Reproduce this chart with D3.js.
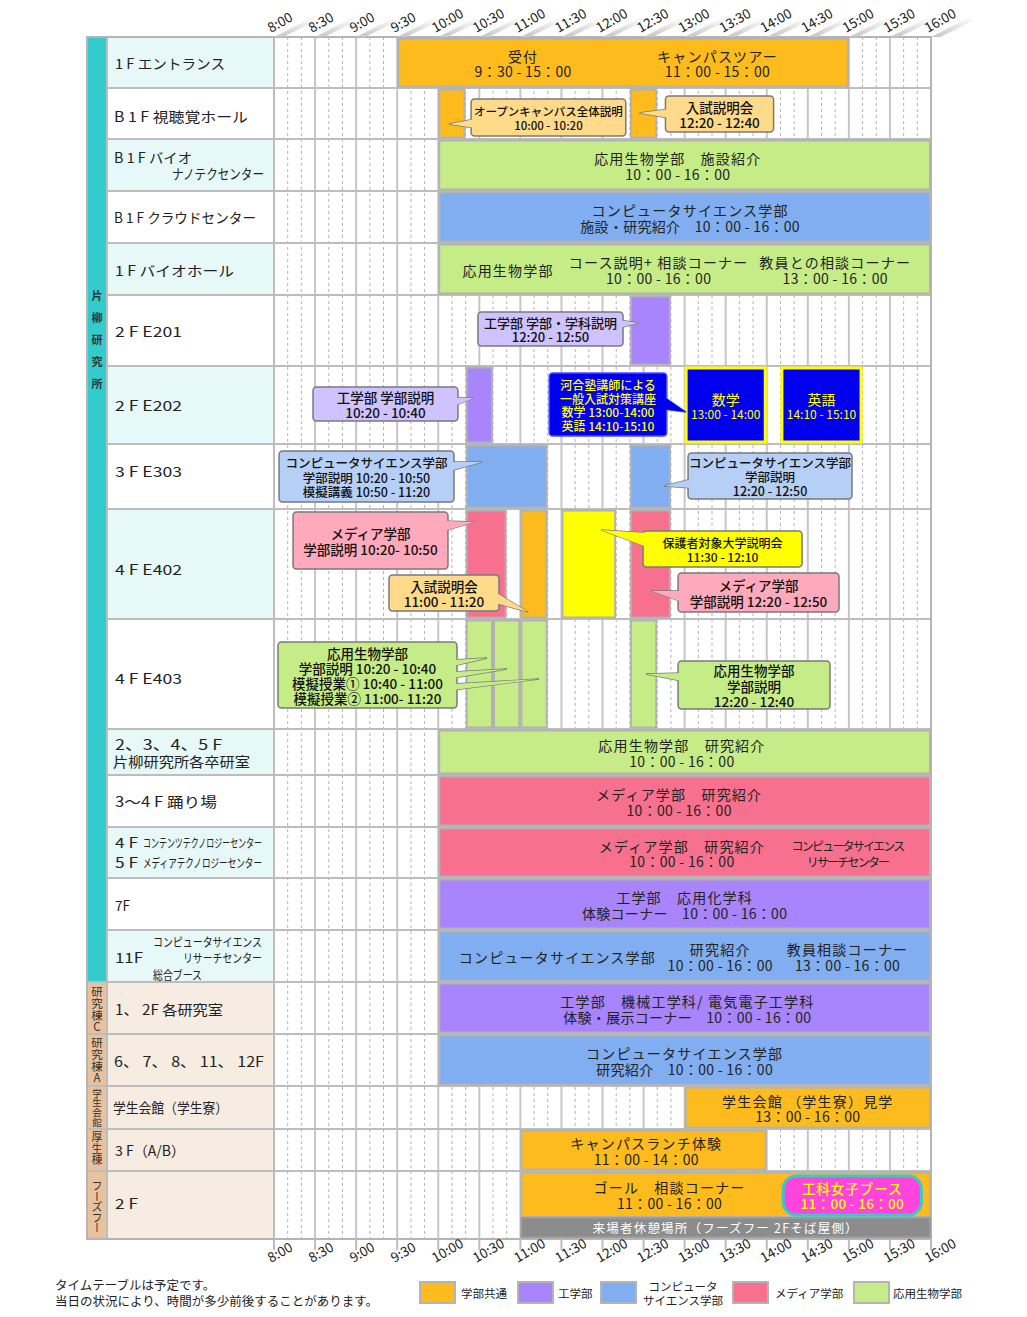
<!DOCTYPE html>
<html><head><meta charset="utf-8">
<script src="https://cdn.jsdelivr.net/npm/d3@7"></script>
<style>
body{margin:0;background:#fff}
svg{display:block}
text{font-family:"Noto Sans CJK JP","Noto Sans",sans-serif;fill:#222}
</style>
</head><body>
<svg id="c" width="1027" height="1317"></svg>
<script>
// ---------------- DATA ----------------
const ticks = ["8:00","8:30","9:00","9:30","10:00","10:30","11:00","11:30","12:00","12:30","13:00","13:30","14:00","14:30","15:00","15:30","16:00"];

const rowLabels = [
  ["1 F エントランス"],
  ["B 1 F 視聴覚ホール"],
  ["B 1 F バイオ","ナノテクセンター"],
  ["B 1 F クラウドセンター"],
  ["1 F バイオホール"],
  ["2 F E201"],
  ["2 F E202"],
  ["3 F E303"],
  ["4 F E402"],
  ["4 F E403"],
  ["2、3、4、5 F","片柳研究所各卒研室"],
  ["3〜4 F 踊り場"],
  ["4 F","コンテンツテクノロジーセンター","5 F","メディアテクノロジーセンター"],
  ["7F"],
  ["11F","コンピュータサイエンス","リサーチセンター","総合ブース"],
  ["1、 2F 各研究室"],
  ["6、 7、 8、 11、 12F"],
  ["学生会館（学生寮）"],
  ["3 F（A/B）"],
  ["2 F"]
];

const groups = [
  {name:"片柳研究所", first:0, last:14},
  {name:"研究棟C", first:15, last:15},
  {name:"研究棟A", first:16, last:16},
  {name:"学生会館", first:17, last:17},
  {name:"厚生棟", first:18, last:18},
  {name:"フーズフー", first:19, last:19}
];

const categories = ["common","eng","cs","media","bio"];
const legendLabels = [["学部共通"],["工学部"],["コンピュータ","サイエンス学部"],["メディア学部"],["応用生物学部"]];

const events = [
  {row:0, start:"9:30", end:"15:00", cat:"common", texts:[{at:"11:02", lines:["受付","9：30 - 15：00"]},{at:"13:24", lines:["キャンパスツアー","11：00 - 15：00"]}]},
  {row:1, start:"10:00", end:"10:20", cat:"common"},
  {row:1, start:"12:20", end:"12:40", cat:"common"},
  {row:2, start:"10:00", end:"16:00", cat:"bio", texts:[{at:"12:55", lines:["応用生物学部　施設紹介","10：00 - 16：00"]}]},
  {row:3, start:"10:00", end:"16:00", cat:"cs", texts:[{at:"13:04", lines:["コンピュータサイエンス学部","施設・研究紹介　10：00 - 16：00"]}]},
  {row:4, start:"10:00", end:"16:00", cat:"bio", texts:[{at:"10:51", lines:["応用生物学部"]},{at:"12:41", lines:["コース説明+ 相談コーナー","10：00 - 16：00"]},{at:"14:50", lines:["教員との相談コーナー","13：00 - 16：00"]}]},
  {row:5, start:"12:20", end:"12:50", cat:"eng"},
  {row:6, start:"10:20", end:"10:40", cat:"eng"},
  {row:6, start:"13:00", end:"14:00", cat:"kawai", texts:[{lines:["数学","13:00 - 14:00"]}]},
  {row:6, start:"14:10", end:"15:10", cat:"kawai", texts:[{lines:["英語","14:10 - 15:10"]}]},
  {row:7, start:"10:20", end:"11:20", cat:"cs"},
  {row:7, start:"12:20", end:"12:50", cat:"cs"},
  {row:8, start:"10:20", end:"10:50", cat:"media"},
  {row:8, start:"11:00", end:"11:20", cat:"common"},
  {row:8, start:"11:30", end:"12:10", cat:"parent"},
  {row:8, start:"12:20", end:"12:50", cat:"media"},
  {row:9, start:"10:20", end:"10:40", cat:"bio"},
  {row:9, start:"10:40", end:"11:00", cat:"bio"},
  {row:9, start:"11:00", end:"11:20", cat:"bio"},
  {row:9, start:"12:20", end:"12:40", cat:"bio"},
  {row:10, start:"10:00", end:"16:00", cat:"bio", texts:[{at:"12:58", lines:["応用生物学部　研究紹介","10：00 - 16：00"]}]},
  {row:11, start:"10:00", end:"16:00", cat:"media", texts:[{at:"12:56", lines:["メディア学部　研究紹介","10：00 - 16：00"]}]},
  {row:12, start:"10:00", end:"16:00", cat:"media", texts:[{at:"12:58", lines:["メディア学部　研究紹介","10：00 - 16：00"]},{at:"14:59", kind:"note", lines:["コンピュータサイエンス","リサーチセンター"]}]},
  {row:13, start:"10:00", end:"16:00", cat:"eng", texts:[{at:"13:00", lines:["工学部　応用化学科","体験コーナー　10：00 - 16：00"]}]},
  {row:14, start:"10:00", end:"16:00", cat:"cs", texts:[{at:"11:27", lines:["コンピュータサイエンス学部"]},{at:"13:26", lines:["研究紹介","10：00 - 16：00"]},{at:"14:59", lines:["教員相談コーナー","13：00 - 16：00"]}]},
  {row:15, start:"10:00", end:"16:00", cat:"eng", texts:[{at:"13:02", lines:["工学部　機械工学科/ 電気電子工学科","体験・展示コーナー　10：00 - 16：00"]}]},
  {row:16, start:"10:00", end:"16:00", cat:"cs", texts:[{at:"13:00", lines:["コンピュータサイエンス学部","研究紹介　10：00 - 16：00"]}]},
  {row:17, start:"13:00", end:"16:00", cat:"common", texts:[{lines:["学生会館 （学生寮）見学","13：00 - 16：00"]}]},
  {row:18, start:"11:00", end:"14:00", cat:"common", texts:[{at:"12:32", lines:["キャンパスランチ体験","11：00 - 14：00"]}]},
  {row:19, start:"11:00", end:"16:00", cat:"common", lane:"upper", texts:[{at:"12:49", lines:["ゴール　相談コーナー","11：00 - 16：00"]}]},
  {row:19, start:"11:00", end:"16:00", cat:"rest", lane:"lower", texts:[{kind:"rest", lines:["来場者休憩場所（フーズフー 2Fそば屋側）"]}]}
];

const callouts = [
  {row:1, cat:"common", lines:["オープンキャンパス全体説明","10:00 - 10:20"]},
  {row:1, cat:"common", lines:["入試説明会","12:20 - 12:40"]},
  {row:5, cat:"eng", lines:["工学部 学部・学科説明","12:20 - 12:50"]},
  {row:6, cat:"eng", lines:["工学部 学部説明","10:20 - 10:40"]},
  {row:6, cat:"kawai", lines:["河合塾講師による","一般入試対策講座","数学 13:00-14:00","英語 14:10-15:10"]},
  {row:7, cat:"cs", lines:["コンピュータサイエンス学部","学部説明 10:20 - 10:50","模擬講義 10:50 - 11:20"]},
  {row:7, cat:"cs", lines:["コンピュータサイエンス学部","学部説明","12:20 - 12:50"]},
  {row:8, cat:"media", lines:["メディア学部","学部説明 10:20- 10:50"]},
  {row:8, cat:"common", lines:["入試説明会","11:00 - 11:20"]},
  {row:8, cat:"parent", lines:["保護者対象大学説明会","11:30 - 12:10"]},
  {row:8, cat:"media", lines:["メディア学部","学部説明 12:20 - 12:50"]},
  {row:9, cat:"bio", lines:["応用生物学部","学部説明 10:20 - 10:40","模擬授業① 10:40 - 11:00","模擬授業② 11:00- 11:20"]},
  {row:9, cat:"bio", lines:["応用生物学部","学部説明","12:20 - 12:40"]}
];

const badges = [{row:19, lines:["工科女子ブース","11：00 - 16：00"]}];

const notes = ["タイムテーブルは予定です。","当日の状況により、時間が多少前後することがあります。"];

// ---------------- LAYOUT / STYLE ----------------
const colors = {common:"#FDBB1D", eng:"#A884FD", cs:"#80AEF0", media:"#F7718F", bio:"#C6EC87", kawai:"#0000EE", parent:"#FFFF00", rest:"#8C8C8C"};
const calloutFill = {common:"#FFDA8A", eng:"#CEC2FF", cs:"#B6CFF6", media:"#FFA9BC", bio:"#C6EC87", parent:"#FFFF00", kawai:"#0000EE"};
const rowHeights = [51,51,52,52,52,71,78,65,110,110,46,52,51,52,52,52,52,43,42,68];
const gridTop = 37;
const rowTop = [];
rowHeights.reduce((acc,h,i)=>{rowTop[i]=acc; return acc+h;}, gridTop);
const gridBottom = gridTop + d3.sum(rowHeights);
const sideX0 = 87, sideX1 = 107, labX1 = 274, gridX1 = 931;

const labelLayout = [
  [{x:115,dy:26,len:110}],
  [{x:114,dy:28,len:134}],
  [{x:114,dy:18,len:78},{x:264,dy:34,len:92,anchor:"end"}],
  [{x:114,dy:26,len:142}],
  [{x:115,dy:27,len:119}],
  [{x:115,dy:36,len:67}],
  [{x:115,dy:39,len:67}],
  [{x:115,dy:27,len:67}],
  [{x:115,dy:60,len:67}],
  [{x:115,dy:59,len:67}],
  [{x:115,dy:15,len:107},{x:113,dy:32,len:137}],
  [{x:115,dy:26,len:102}],
  [{x:115,dy:15,len:23},{x:143,dy:15,len:119,size:12.5},{x:115,dy:35,len:23},{x:143,dy:35,len:119,size:12.5}],
  [{x:115,dy:27,len:15}],
  [{x:115,dy:27,len:28},{x:153,dy:11,len:109,size:12},{x:262,dy:27,len:79,size:12,anchor:"end"},{x:153,dy:44,len:49,size:12}],
  [{x:115,dy:27,len:108}],
  [{x:114,dy:27,len:150}],
  [{x:113,dy:21,len:115}],
  [{x:115,dy:21,len:70}],
  [{x:115,dy:32,len:23}]
];

const groupStyle = [
  {fill:"#33CCCC", size:11, step:22, cy:340, weight:"bold"},
  {fill:"#E8C29C", size:11.5, step:11.7, cy:1009.5},
  {fill:"#E8C29C", size:11.5, step:11.7, cy:1060.5},
  {fill:"#E8C29C", size:9.5, step:9.7, cy:1107.5},
  {fill:"#E8C29C", size:11, step:11.5, cy:1148.5},
  {fill:"#E8C29C", size:11, step:10.5, cy:1207}
];

const calloutLayout = [
  {box:[624,737,11,48], size:11.5, tips:[{side:"l", t:608, y:36, base:[31,40]}]},
  {box:[766,845,8,44], size:13.5, tips:[{side:"l", t:747, y:25, base:[21,30]}]},
  {box:[629,735,17,51], size:13, tips:[{side:"r", t:746, y:28, base:[25,33]}]},
  {box:[508.5,614.4,21,55], size:13.5, tips:[{side:"r", t:626, y:32, base:[32,40]}]},
  {box:[681,767,7,70], size:12, tips:[{side:"r", t:781, y:46, base:[30,43]}]},
  {box:[483.7,611.5,7,58], size:12.5, tips:[{side:"r", t:632, y:18, base:[18,27]}]},
  {box:[782.5,902.3,9,55], size:12.5, tips:[{side:"l", t:765, y:42, base:[35,44]}]},
  {box:[493.9,607.1,3,60], size:13.5, tips:[{side:"r", t:626.8, y:13, base:[12,22]}]},
  {box:[564,644.4,66,102], size:13.5, tips:[{side:"r", t:665.6, y:103, base:[83,94]}]},
  {box:[749.6,865.8,22,58], size:12, tips:[{side:"l", t:718.9, y:21, base:[24,38]}]},
  {box:[775.2,892.8,64,103], size:13.5, tips:[{side:"l", t:756.2, y:82, base:[82,93]}]},
  {box:[482.9,613.7,23,89], size:13.5, tips:[{side:"r",t:635.6,y:39,base:[41,47]},{side:"r",t:650.2,y:50,base:[53,59]},{side:"r",t:673.6,y:60,base:[65,71]}]},
  {box:[775.2,886.2,42,90], size:13.5, tips:[{side:"l", t:751.8, y:55, base:[54,62]}]}
];
const badgeLayout = [{box:[852,953,5,44]}];

// ---------------- DRAW ----------------
const T = s => { const [h,m] = s.split(":").map(Number); return h*60+m; };
const x = d3.scaleLinear().domain([T(ticks[0]), T(ticks[ticks.length-1])]).range([labX1, gridX1]);
const svg = d3.select("#c");

// multi-line text as one <text> with tspans
function multiText(parent, lines, cx, cy, lh, opts) {
  const n = lines.length;
  const t = parent.append("text").attr("text-anchor", opts.anchor || "middle")
    .attr("font-size", opts.size).attr("font-weight", opts.weight || "normal")
    .style("fill", opts.fill || "#222");
  lines.forEach((s,k)=>{
    const sp = t.append("tspan").attr("x", cx).attr("y", cy + (k-(n-1)/2)*lh)
      .attr("dominant-baseline","central").text(s);
    const ls = opts.ls ? opts.ls(s,k) : 0;
    if (ls) sp.attr("letter-spacing", ls);
    if (opts.sizes) sp.attr("font-size", opts.sizes[k]);
  });
  return t;
}

const defs = svg.append("defs");
const wg = defs.append("linearGradient").attr("id","wedge").attr("x1","0").attr("y1","1").attr("x2","0.3").attr("y2","0");
wg.append("stop").attr("offset","0").attr("stop-color","#c4c4c4");
wg.append("stop").attr("offset","1").attr("stop-color","#f6f6f6");

// label column backgrounds
rowLabels.forEach((_,i)=>{
  const bg = i >= 15 ? "#F6ECE2" : (i%2===0 ? "#E6F8F8" : "#FFFFFF");
  svg.append("rect").attr("x",sideX1).attr("y",rowTop[i]).attr("width",labX1-sideX1).attr("height",rowHeights[i]).attr("fill",bg);
});
// grid background
svg.append("rect").attr("x",labX1).attr("y",gridTop).attr("width",gridX1-labX1).attr("height",gridBottom-gridTop).attr("fill","#fff");

// 10-minute dashed lines
const minorTimes = d3.range(T(ticks[0]), T(ticks[ticks.length-1]), 10).filter(t => t % 30 !== 0);
svg.append("g").selectAll("line").data(minorTimes).join("line")
  .attr("x1",d=>x(d)).attr("x2",d=>x(d)).attr("y1",gridTop).attr("y2",gridBottom)
  .attr("stroke","#b4b4b4").attr("stroke-width",1).attr("stroke-dasharray","3,3");
// half-hour lines
svg.append("g").selectAll("line").data(ticks).join("line")
  .attr("x1",d=>x(T(d))).attr("x2",d=>x(T(d))).attr("y1",gridTop).attr("y2",gridBottom)
  .attr("stroke","#c6c6c6").attr("stroke-width",2);

// side columns (vertical group names, vertical writing mode)
groups.forEach((g,gi)=>{
  const st = groupStyle[gi];
  const y0 = rowTop[g.first], y1 = rowTop[g.last]+rowHeights[g.last];
  svg.append("rect").attr("x",sideX0).attr("y",y0).attr("width",sideX1-sideX0).attr("height",y1-y0).attr("fill",st.fill);
  const ls = st.step - st.size;
  svg.append("text").attr("x",97).attr("y",st.cy + ls/2)
    .attr("text-anchor","middle")
    .style("writing-mode","vertical-rl").style("text-orientation","upright")
    .attr("font-size",st.size).attr("font-weight",st.weight||"normal")
    .attr("letter-spacing",ls).style("fill","#333").text(g.name);
});

// horizontal row lines
rowTop.forEach((y,i)=>{
  if (i===0) return;
  const isGroupStart = groups.some(g=>g.first===i);
  svg.append("line").attr("x1",isGroupStart?sideX0:sideX1).attr("x2",gridX1).attr("y1",y).attr("y2",y)
    .attr("stroke","#bdbdbd").attr("stroke-width",2);
});
// vertical separators and outer border
[sideX1, labX1].forEach(xx=>svg.append("line").attr("x1",xx).attr("x2",xx).attr("y1",gridTop).attr("y2",gridBottom).attr("stroke","#bdbdbd").attr("stroke-width",2));
svg.append("rect").attr("x",sideX0).attr("y",gridTop).attr("width",gridX1-sideX0).attr("height",gridBottom-gridTop)
  .attr("fill","none").attr("stroke","#b4b4b4").attr("stroke-width",2);

// row labels
rowLabels.forEach((lines,i)=>{
  const t = svg.append("text").attr("font-size",14);
  lines.forEach((s,k)=>{
    const L = labelLayout[i][k];
    t.append("tspan").attr("x",L.x).attr("y",rowTop[i]+L.dy)
      .attr("dominant-baseline","central").attr("text-anchor",L.anchor||"start")
      .attr("font-size",L.size||14).attr("textLength",L.len).attr("lengthAdjust","spacingAndGlyphs")
      .text(s);
  });
});

// bars
const barG = svg.append("g");
events.forEach(ev=>{
  const top = rowTop[ev.row], h = rowHeights[ev.row];
  let y0 = top+1.5, y1 = top+h-1.5;
  if (ev.lane==="upper") { y1 = top+46; }
  if (ev.lane==="lower") { y0 = top+47; y1 = top+h-2; }
  const x0 = x(T(ev.start)), x1 = x(T(ev.end));
  const kawai = ev.cat==="kawai";
  barG.append("rect")
    .attr("x", x0 + (kawai?1.5:1)).attr("y", y0 + (kawai?0.5:0))
    .attr("width", x1-x0-(kawai?3:2)).attr("height", y1-y0-(kawai?1:0))
    .attr("fill", colors[ev.cat])
    .attr("stroke", kawai ? "#FFFF00" : (ev.cat==="rest" ? "#9a9a9a" : "#b2b2b2"))
    .attr("stroke-width", kawai ? 3 : 2);
  (ev.texts||[]).forEach(tg=>{
    const cx = tg.at ? x(T(tg.at)) : (x0+x1)/2;
    const cy = (y0+y1)/2 + (ev.lane ? 0 : 1);
    if (kawai) {
      multiText(barG, tg.lines, cx, cy, 14, {size:14, sizes:[14,12], fill:"#FFFF00"});
    } else if (tg.kind==="note") {
      multiText(barG, tg.lines, cx, cy, 16, {size:12, ls:()=>-1.8});
    } else if (tg.kind==="rest") {
      multiText(barG, tg.lines, cx, cy, 15, {size:12.5, ls:()=>1.2, fill:"#fff"});
    } else {
      multiText(barG, tg.lines, cx, cy, 15.5, {size:14, ls:s=>/[0-9]/.test(s)?0.3:1.2});
    }
  });
});

// callouts
const cg = svg.append("g");
callouts.forEach((c,i)=>{
  const L = calloutLayout[i];
  const top = rowTop[c.row];
  const bx0 = x(L.box[0]), bx1 = x(L.box[1]), by0 = top+L.box[2], by1 = top+L.box[3];
  const fill = calloutFill[c.cat];
  const stroke = c.cat==="kawai" ? "#4d4dff" : "#7a7a7a";
  const tri = p => {
    const ex = p.side==="l" ? bx0+4 : bx1-4;
    return d3.line()([[ex, top+p.base[0]],[x(p.t), top+p.y],[ex, top+p.base[1]]]);
  };
  L.tips.forEach(p=> cg.append("path").attr("d",tri(p)).attr("fill",fill).attr("stroke",stroke).attr("stroke-width",1.3).attr("stroke-linejoin","miter"));
  cg.append("rect").attr("x",bx0).attr("y",by0).attr("width",bx1-bx0).attr("height",by1-by0).attr("rx",3.5)
    .attr("fill",fill).attr("stroke",stroke).attr("stroke-width",1.5);
  L.tips.forEach(p=> cg.append("path").attr("d",tri(p)).attr("fill",fill).attr("stroke","none"));
  multiText(cg, c.lines, (bx0+bx1)/2, (by0+by1)/2 + 0.5, L.size + 1.8,
    {size:L.size, weight:500, fill: c.cat==="kawai" ? "#FFFF00" : "#111"});
});

// badges
badges.forEach((b,i)=>{
  const L = badgeLayout[i];
  const top = rowTop[b.row];
  const bx0 = x(L.box[0]), bx1 = x(L.box[1]), by0 = top+L.box[2], by1 = top+L.box[3];
  cg.append("rect").attr("x",bx0).attr("y",by0).attr("width",bx1-bx0).attr("height",by1-by0).attr("rx",13)
    .attr("fill","#FF44DD").attr("stroke","#33CCCC").attr("stroke-width",3);
  multiText(cg, b.lines, (bx0+bx1)/2, (by0+by1)/2, 15.5, {size:13.5, weight:500, fill:"#FFFF00", ls:(s,k)=>k===0?1:0.3});
});

// axes (top and bottom)
const axG = svg.append("g");
ticks.forEach(t=>{
  const gx = x(T(t));
  axG.append("path").attr("d",`M${gx},${gridTop} L${gx+37},${gridTop-19} L${gx+42},${gridTop-16} L${gx+9},${gridTop} Z`).attr("fill","url(#wedge)");
  axG.append("text").attr("transform",`translate(${gx-3},${gridTop-4}) rotate(-30)`)
    .attr("font-family","'Noto Sans',sans-serif").attr("font-size",13.5).text(t);
  axG.append("line").attr("x1",gx).attr("x2",gx).attr("y1",gridBottom).attr("y2",gridBottom+11).attr("stroke","#bdbdbd").attr("stroke-width",2);
  axG.append("text").attr("transform",`translate(${gx-3},${gridBottom+24}) rotate(-30)`)
    .attr("font-family","'Noto Sans',sans-serif").attr("font-size",13.5).text(t);
});

// notes
multiText(svg, notes, 55, 1292, 16, {size:12.5, anchor:"start"});

// legend
const legSwX = [420, 518, 601, 733, 854];
const legTxt = [{x:461,a:"start"},{x:558,a:"start"},{x:683,a:"middle"},{x:775,a:"start"},{x:893,a:"start"}];
categories.forEach((c,i)=>{
  svg.append("rect").attr("x",legSwX[i]).attr("y",1282).attr("width",35).attr("height",21).attr("fill",colors[c]).attr("stroke","#b4b4b4").attr("stroke-width",2);
  multiText(svg, legendLabels[i], legTxt[i].x, 1293, 14, {size:11.5, anchor:legTxt[i].a});
});
</script>
</body></html>
